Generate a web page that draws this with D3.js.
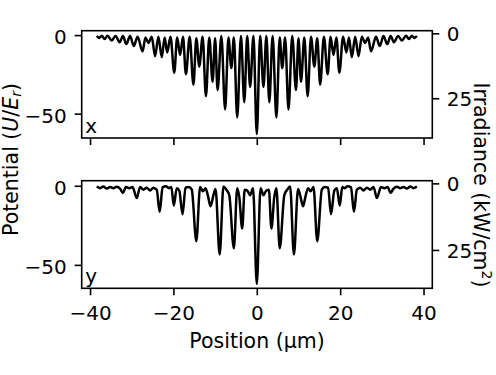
<!DOCTYPE html>
<html>
<head>
<meta charset="utf-8">
<script src="https://cdn.jsdelivr.net/npm/d3@7"></script>
<style>
  body { margin: 0; background: #fff; }
  svg text { font-family: "DejaVu Sans", sans-serif; fill: #000; }
</style>
</head>
<body>
<svg id="chart" width="496" height="375"></svg>
<script>
// Potential along x
const posX = [-38.4, -37.8, -37.2, -36.5, -35.8, -34.8, -33.9, -32.9, -32.1, -31.3, -30.4, -29.5, -28.6, -27.4, -26.7, -26.0, -25.2, -24.4, -23.6, -22.8,
  -22.1, -21.5, -20.7, -19.8, -19.1, -18.4, -17.7, -17.0, -16.1, -15.2, -14.5, -13.8, -13.0, -12.2, -11.4, -10.6, -10.0, -9.4, -8.5, -7.6,
  -6.8, -6.1, -5.5, -4.7, -3.8, -3.0, -2.3, -1.6, -0.8, 0,
  0.8, 1.6, 2.3, 3.0, 3.8, 4.7, 5.5, 6.1, 6.8, 7.6, 8.5, 9.4, 10.0, 10.6, 11.4, 12.2, 13.0, 13.8, 14.5, 15.2,
  16.1, 17.0, 17.7, 18.4, 19.1, 19.8, 20.7, 21.5, 22.1, 22.8, 23.6, 24.4, 25.2, 26.0, 26.7, 27.4, 28.6, 29.5, 30.4, 31.3,
  32.1, 32.9, 33.9, 34.8, 35.8, 36.5, 37.2, 37.8, 38.4];
const potX = [-0.6, -1.8, -0.4, -2.5, -0.4, -3.5, -0.5, -4.5, -0.6, -5.7, -0.6, -7.0, -1.0, -10.4, -1.5, -5.0, -1.0, -13.4, -1.0, -14.0,
  -1.5, -11.0, -1.0, -24.0, -1.5, -12.6, -1.0, -25.0, -1.0, -31.5, -2.0, -20.0, -1.0, -39.0, -1.5, -29.7, -2.0, -35.0, -0.5, -47.4,
  -1.5, -21.0, -1.5, -52.5, -0.5, -42.7, -0.5, -33.0, -0.5, -63.0,
  -0.5, -33.0, -0.5, -42.7, -0.5, -52.5, -1.5, -21.0, -1.5, -47.4, -0.5, -35.0, -2.0, -29.7, -1.5, -39.0, -1.0, -20.0, -2.0, -31.5,
  -1.0, -25.0, -1.0, -12.6, -1.5, -24.0, -1.0, -11.0, -1.5, -14.0, -1.0, -13.4, -1.0, -5.0, -1.5, -10.4, -1.0, -7.0, -0.6, -5.7,
  -0.6, -4.5, -0.5, -3.5, -0.4, -2.5, -0.4, -1.8, -0.6];

// Potential along y
const posY = [-38.4, -37.6, -36.8, -36.0, -35.2, -34.4, -33.6, -32.8, -32.1, -31.4, -30.6, -29.8, -28.8, -28.0, -27.2, -26.4, -25.6, -24.8, -24.0, -23.3,
  -22.6, -21.8, -21.0, -20.5, -19.9, -19.2, -18.6, -17.8, -17.1, -16.3, -15.6, -14.5, -13.6, -12.9, -12.3, -11.7, -11.1, -10.4, -9.9, -8.9,
  -8.0, -7.3, -6.6, -5.5, -4.7, -4.2, -3.5, -2.9, -2.3, -1.6, -0.9, 0,
  0.9, 1.6, 2.3, 2.9, 3.5, 4.2, 4.7, 5.5, 6.6, 7.3, 8.0, 8.9, 9.9, 10.4, 11.1, 11.7, 12.3, 12.9, 13.6, 14.5,
  15.6, 16.3, 17.1, 17.8, 18.6, 19.2, 19.9, 20.5, 21.0, 21.8, 22.6, 23.3, 24.0, 24.8, 25.6, 26.4, 27.2, 28.0, 28.8, 29.8,
  30.6, 31.4, 32.1, 32.8, 33.6, 34.4, 35.2, 36.0, 36.8, 37.6, 38.4];
const potY = [-0.5, -1.5, -0.5, -1.8, -0.8, -1.5, -0.6, -1.8, -4.5, -0.8, -1.5, -0.8, -7.8, -0.8, -2.5, -1.2, -3.0, -1.2, -2.5, -16.5,
  -1.0, -0.3, -1.5, -0.8, -12.5, -1.5, -3.0, -18.0, -1.2, -0.8, -2.5, -35.0, -0.8, -3.5, -1.5, -6.5, -13.0, -6.0, -2.0, -43.5,
  -0.5, -2.5, -6.0, -39.5, -1.5, -7.0, -27.0, -2.5, -3.0, -6.0, -1.5, -62.0,
  -1.5, -6.0, -3.0, -2.5, -27.0, -7.0, -1.5, -39.5, -6.0, -2.5, -0.5, -43.5, -2.0, -6.0, -13.0, -6.5, -1.5, -3.5, -0.8, -35.0,
  -2.5, -0.8, -1.2, -18.0, -3.0, -1.5, -12.5, -0.8, -1.5, -0.3, -1.0, -16.5, -2.5, -1.2, -3.0, -1.2, -2.5, -0.8, -7.8, -0.8,
  -1.5, -0.8, -4.5, -1.8, -0.6, -1.5, -0.8, -1.8, -0.5, -1.5, -0.5];

const posTicks = [-40, -20, 0, 20, 40];
const potTicks = [-50, 0];
const irrTicks = [0, 25];
const panelNames = ["x", "y"];

// Layout
const left = 81.7, right = 432.3, fontSize = 20, labelSize = 20.5;
const panels = [
  { top: 30.7, bottom: 138, potDomain: [-65.5, 2.8], irrDomain: [-1, 40.3], pos: posX, pot: potX, name: panelNames[0], labels: false },
  { top: 180.7, bottom: 288.3, potDomain: [-64.8, 3.2], irrDomain: [-1, 39.4], pos: posY, pot: potY, name: panelNames[1], labels: true }
];

let svg = d3.select("#chart");
let xScale = d3.scaleLinear().domain([-42, 42.1]).range([left, right]);

function styleAxis(g) {
  g.select(".domain").remove();
  g.selectAll(".tick line").attr("stroke", "#000").attr("stroke-width", 1.6);
  g.selectAll(".tick text").attr("font-size", fontSize).attr("font-family", "DejaVu Sans");
}

panels.forEach(p => {
  let yScale = d3.scaleLinear().domain(p.potDomain).range([p.bottom, p.top]);
  let irrScale = d3.scaleLinear().domain(p.irrDomain).range([p.top, p.bottom]);

  // Trace
  let line = d3.line().x(d => xScale(d[0])).y(d => yScale(d[1])).curve(d3.curveMonotoneX);
  svg.append("path").datum(d3.zip(p.pos, p.pot))
    .attr("d", line).attr("fill", "none").attr("stroke", "#000")
    .attr("stroke-width", 2.5).attr("stroke-linejoin", "round");

  // Axes
  let xAxis = d3.axisBottom(xScale).tickValues(posTicks).tickSize(7).tickPadding(10.5);
  if (!p.labels) xAxis.tickFormat("");
  svg.append("g").attr("transform", "translate(0," + p.bottom + ")").call(xAxis).call(styleAxis);

  svg.append("g").attr("transform", "translate(" + left + ",0)")
    .call(d3.axisLeft(yScale).tickValues(potTicks).tickSize(7).tickPadding(8))
    .call(styleAxis).call(g => g.selectAll(".tick text").attr("dy", 8.4));

  svg.append("g").attr("transform", "translate(" + right + ",0)")
    .call(d3.axisRight(irrScale).tickValues(irrTicks).tickSize(7).tickPadding(7.5))
    .call(styleAxis).call(g => g.selectAll(".tick text").attr("dy", 7.5));

  // Frame
  svg.append("rect").attr("x", left).attr("y", p.top)
    .attr("width", right - left).attr("height", p.bottom - p.top)
    .attr("fill", "none").attr("stroke", "#000").attr("stroke-width", 1.6);

  // Panel name
  svg.append("text").text(p.name).attr("x", left + 3.5).attr("y", p.bottom - 5)
    .attr("font-size", fontSize);
});

// Axis labels
svg.append("text").text("Position (µm)").attr("x", (left + right) / 2).attr("y", 348.3)
  .attr("text-anchor", "middle").attr("font-size", labelSize);

let potLabel = svg.append("text").attr("transform", "translate(17.5,159.5) rotate(-90)")
  .attr("text-anchor", "middle").attr("font-size", labelSize);
potLabel.append("tspan").text("Potential (");
potLabel.append("tspan").attr("font-style", "italic").text("U");
potLabel.append("tspan").text("/");
potLabel.append("tspan").attr("font-style", "italic").text("E");
potLabel.append("tspan").attr("font-style", "italic").attr("font-size", 14).attr("dy", 3).text("r");
potLabel.append("tspan").attr("dy", -3).text(")");

let irrLabel = svg.append("text").attr("transform", "translate(473.5,185) rotate(90)")
  .attr("text-anchor", "middle").attr("font-size", labelSize);
irrLabel.append("tspan").text("Irradiance (kW/cm");
irrLabel.append("tspan").attr("font-size", 14).attr("dy", -8).text("2");
irrLabel.append("tspan").attr("dy", 8).text(")");
</script>
</body>
</html>
